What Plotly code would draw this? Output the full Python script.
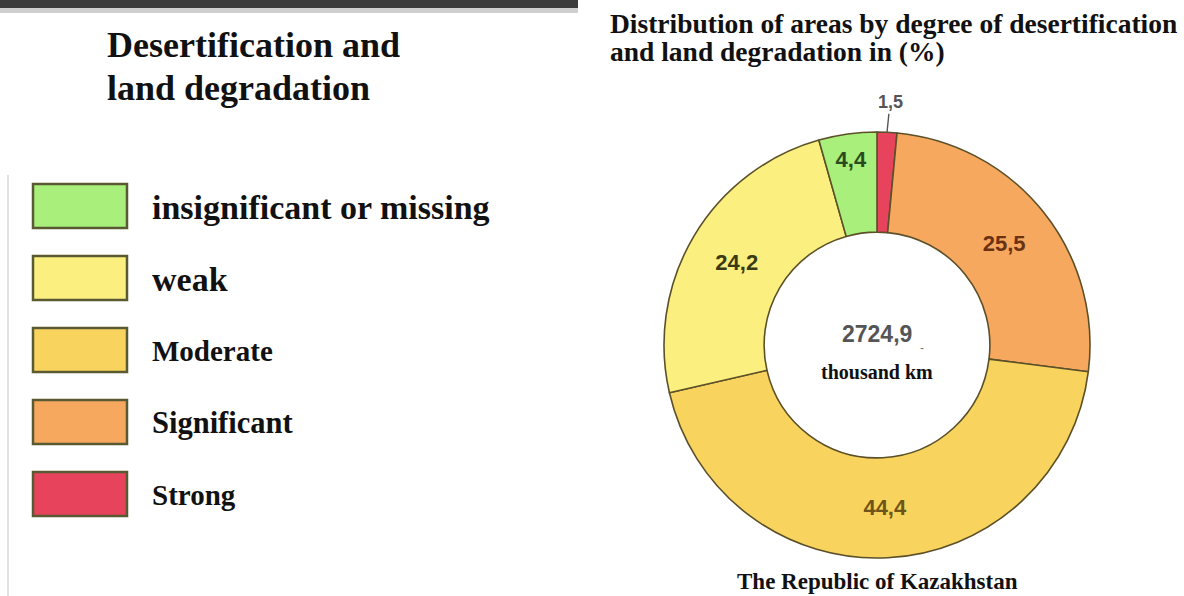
import math

import plotly.graph_objects as go

W, H = 1184, 596

categories = ["Strong", "Significant", "Moderate", "weak", "insignificant or missing"]
shares = [1.5, 25.5, 44.4, 24.2, 4.4]
colors = ["#e8435c", "#f7a85f", "#f8d45e", "#fbef80", "#a8ef7c"]
text_colors = ["#555555", "#6a3212", "#6e5418", "#3a3a12", "#2c4a20"]
legend_order = ["insignificant or missing", "weak", "Moderate", "Significant", "Strong"]
legend_sizes = [34, 34, 29, 30.5, 29]
total_area = "2724,9"

SERIF = "Liberation Serif, Times New Roman, serif"
SANS = "Liberation Sans, Arial, sans-serif"


def px(x, y):
    return x / W, 1 - y / H


def fmt(v):
    return f"{v:.1f}".replace(".", ",")


def label(x, y, text, size, family=SERIF, color="#111111", xanchor="left"):
    xp, yp = px(x, y)
    return dict(x=xp, y=yp, xref="paper", yref="paper", text=text, showarrow=False,
                xanchor=xanchor, yanchor="middle",
                font=dict(family=family, size=size, color=color))


# pie geometry (pixels)
cx, cy, R = 877, 345, 213
dom_x = [(cx - R) / W, (cx + R) / W]
dom_y = [1 - (cy + R) / H, 1 - (cy - R) / H]

labels_txt = ["" if v < 2 else f"<b>{fmt(v)}</b>" for v in shares]

fig = go.Figure(go.Pie(
    labels=categories, values=shares, sort=False, direction="clockwise", rotation=0,
    hole=0.53, domain=dict(x=dom_x, y=dom_y),
    marker=dict(colors=colors, line=dict(color="#5c5028", width=1.6)),
    text=labels_txt, textinfo="text", textposition="inside",
    insidetextorientation="horizontal",
    insidetextfont=dict(family=SANS, size=22, color=text_colors),
    showlegend=False,
))

ann = []
shapes = []

# small slice label with leader line
small = shares[0]
theta = 2 * math.pi * (small / 2) / sum(shares)
ann.append(dict(x=(cx + R * math.sin(theta)) / W, y=1 - (cy - R * math.cos(theta)) / H,
                xref="paper", yref="paper", text=f"<b>{fmt(small)}</b>", showarrow=True,
                arrowhead=0, arrowwidth=1.4, arrowcolor="#555555", ax=3, ay=-30,
                font=dict(family=SANS, size=18, color="#555555")))

# centre text
ann.append(label(cx, 334, f"<b>{total_area}</b>", 23, SANS, "#555555", "center"))
ann.append(label(922, 348, "-", 12, SANS, "#777777", "center"))
ann.append(label(cx, 372, "<b>thousand km</b>", 20, SERIF, "#111111", "center"))

# titles
ann.append(label(608, 24, "<b>Distribution of areas by degree of desertification</b>", 27.5))
ann.append(label(608, 52, "<b>and land degradation in (%)</b>", 27.5))
ann.append(label(cx, 581, "<b>The Republic of Kazakhstan</b>", 23, xanchor="center"))
ann.append(label(105, 45, "<b>Desertification and</b>", 36))
ann.append(label(105, 88, "<b>land degradation</b>", 36))

# legend boxes
color_of = {c.lower(): col for c, col in zip(categories, colors)}
for i, (name, fs) in enumerate(zip(legend_order, legend_sizes)):
    top = 184 + i * 72
    x0, y0 = px(33, top)
    x1, y1 = px(127, top + 44)
    shapes.append(dict(type="rect", xref="paper", yref="paper", x0=x0, y0=y1, x1=x1, y1=y0,
                       fillcolor=color_of[name.lower()],
                       line=dict(color="#5a5a32", width=2.5)))
    ann.append(label(150, top + 23, f"<b>{name}</b>", fs))

# scanned page edges
shapes.append(dict(type="rect", xref="paper", yref="paper", x0=0, x1=578 / W,
                   y0=1 - 8 / H, y1=1, fillcolor="#3c3c3c", line=dict(width=0)))
shapes.append(dict(type="rect", xref="paper", yref="paper", x0=0, x1=578 / W,
                   y0=1 - 13 / H, y1=1 - 8 / H, fillcolor="#cfcfcf", line=dict(width=0)))
shapes.append(dict(type="line", xref="paper", yref="paper", x0=8 / W, x1=8 / W,
                   y0=0, y1=1 - 175 / H, line=dict(color="#e2e2e2", width=2)))

fig.update_layout(
    width=W, height=H, margin=dict(l=0, r=0, t=0, b=0),
    paper_bgcolor="white", plot_bgcolor="white",
    annotations=ann, shapes=shapes,
)

fig.write_html("out.html", config={"displayModeBar": False},
               post_script="document.body.style.margin='0';")
